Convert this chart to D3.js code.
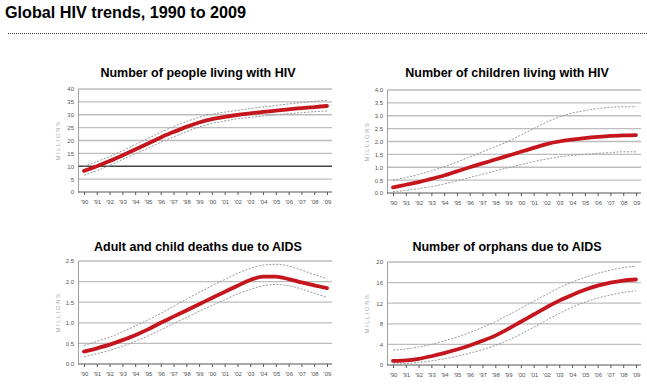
<!DOCTYPE html>
<html><head><meta charset="utf-8">
<script src="https://cdn.jsdelivr.net/npm/d3@7"></script>
<style>
body{margin:0;background:#fff;}
svg{display:block;font-family:"Liberation Sans",Arial,sans-serif;}
</style></head>
<body>
<script>
const years = ["'90","'91","'92","'93","'94","'95","'96","'97","'98","'99","'00","'01","'02","'03","'04","'05","'06","'07","'08","'09"];

const peopleTitle = "Number of people living with HIV";
const peopleTicks = [0,5,10,15,20,25,30,35,40];
const peopleMid   = [8.2,10.0,12.0,14.2,16.5,18.8,21.2,23.3,25.3,27.0,28.3,29.2,29.9,30.5,31.1,31.6,32.1,32.6,33.0,33.4];
const peopleHigh  = [10.0,11.8,13.8,16.0,18.4,20.8,23.2,25.4,27.3,29.0,30.2,31.0,31.7,32.4,33.0,33.6,34.2,34.7,35.2,35.6];
const peopleLow   = [6.5,8.3,10.3,12.6,14.8,17.0,19.3,21.4,23.4,25.2,26.6,27.6,28.4,29.0,29.5,30.0,30.4,30.8,31.2,31.5];

const childTitle = "Number of children living with HIV";
const childTicks = ["0.0","0.5","1.0","1.5","2.0","2.5","3.0","3.5","4.0"];
const childMid   = [0.22,0.32,0.42,0.55,0.68,0.84,1.0,1.15,1.3,1.45,1.6,1.75,1.9,2.0,2.07,2.13,2.18,2.22,2.24,2.25];
const childHigh  = [0.5,0.6,0.72,0.86,1.02,1.2,1.4,1.6,1.8,2.0,2.25,2.5,2.75,2.95,3.1,3.2,3.28,3.33,3.35,3.35];
const childLow   = [0.05,0.1,0.17,0.25,0.35,0.47,0.6,0.73,0.86,0.98,1.1,1.22,1.32,1.4,1.46,1.5,1.54,1.57,1.6,1.6];

const deathTitle = "Adult and child deaths due to AIDS";
const deathTicks = ["0.0","0.5","1.0","1.5","2.0","2.5"];
const deathMid   = [0.3,0.38,0.47,0.58,0.7,0.84,1.0,1.15,1.3,1.45,1.6,1.75,1.9,2.04,2.12,2.12,2.06,1.98,1.91,1.84];
const deathHigh  = [0.45,0.55,0.65,0.78,0.92,1.07,1.23,1.4,1.57,1.74,1.9,2.05,2.2,2.32,2.4,2.42,2.38,2.28,2.17,2.07];
const deathLow   = [0.18,0.25,0.33,0.43,0.55,0.68,0.83,0.98,1.13,1.28,1.42,1.56,1.7,1.81,1.9,1.93,1.9,1.82,1.72,1.62];

const orphTitle = "Number of orphans due to AIDS";
const orphTicks = [0,4,8,12,16,20];
const orphMid   = [0.8,0.9,1.2,1.7,2.3,3.0,3.8,4.7,5.7,7.0,8.4,9.8,11.2,12.5,13.6,14.6,15.4,16.0,16.4,16.6];
const orphHigh  = [2.9,3.1,3.5,4.0,4.7,5.4,6.3,7.3,8.4,9.7,11.0,12.4,13.7,15.0,16.1,17.0,17.8,18.4,18.9,19.2];
const orphLow   = [0.2,0.3,0.5,0.8,1.2,1.7,2.3,3.0,3.8,4.8,6.0,7.3,8.7,10.0,11.2,12.2,13.0,13.6,14.1,14.4];

const W = 647, H = 389;
const svg = d3.select("body").append("svg").attr("width", W).attr("height", H);

svg.append("text").attr("x", 5).attr("y", 18)
  .attr("font-size", 16.2).attr("font-weight", "bold").attr("fill", "#000")
  .text("Global HIV trends, 1990 to 2009");
svg.append("line").attr("x1", 8).attr("x2", 647).attr("y1", 33.5).attr("y2", 33.5)
  .attr("stroke", "#333").attr("stroke-width", 1.2).attr("stroke-dasharray", "1,1");

const panels = [
  {title: peopleTitle, ticks: peopleTicks, mid: peopleMid, hi: peopleHigh, lo: peopleLow, ox: 0, top: 89, bottom: 192, dark: 10, titleY: 77},
  {title: childTitle, ticks: childTicks, mid: childMid, hi: childHigh, lo: childLow, ox: 309, top: 90, bottom: 193, dark: null, titleY: 77},
  {title: deathTitle, ticks: deathTicks, mid: deathMid, hi: deathHigh, lo: deathLow, ox: 0, top: 261, bottom: 364, dark: null, titleY: 251},
  {title: orphTitle, ticks: orphTicks, mid: orphMid, hi: orphHigh, lo: orphLow, ox: 309, top: 262, bottom: 365, dark: null, titleY: 251}
];

panels.forEach(p => {
  const g = svg.append("g").attr("transform", `translate(${p.ox},0)`);
  const axisL = 78, gridR = 332;
  const x = d3.scalePoint().domain(years).range([84, 327]);
  const tv = p.ticks.map(Number);
  const y = d3.scaleLinear().domain([tv[0], tv[tv.length-1]]).range([p.bottom, p.top]);

  g.append("text").attr("x", 198).attr("y", p.titleY).attr("text-anchor", "middle")
    .attr("font-size", 12.5).attr("font-weight", "bold").attr("fill", "#000").text(p.title);

  g.selectAll(".grid").data(tv.slice(1)).enter().append("line")
    .attr("x1", axisL).attr("x2", gridR)
    .attr("y1", d => y(d)).attr("y2", d => y(d))
    .attr("stroke", d => d === p.dark ? "#444" : "#bdbdbd")
    .attr("stroke-width", 1.3);

  const ya = g.append("g").attr("transform", `translate(${axisL},0)`)
    .call(d3.axisLeft(y).tickValues(tv).tickSize(0).tickPadding(4)
      .tickFormat((d, i) => String(p.ticks[i])));
  ya.select(".domain").attr("stroke", "#888").attr("stroke-width", 0.8);
  ya.selectAll("text").attr("font-size", 6).attr("fill", "#555").attr("font-family", "Liberation Sans Narrow, Liberation Sans, sans-serif");

  const xa = g.append("g").attr("transform", `translate(0,${p.bottom})`)
    .call(d3.axisBottom(x).tickSize(3).tickPadding(5));
  xa.select(".domain").attr("d", `M${axisL},0H${gridR}`).attr("stroke", "#555").attr("stroke-width", 1);
  xa.selectAll("line").attr("stroke", "#555");
  xa.selectAll("text").attr("font-size", 6).attr("fill", "#555").attr("font-family", "Liberation Sans Narrow, Liberation Sans, sans-serif");

  g.append("text").attr("transform", `translate(${axisL - 18},${(p.top + p.bottom) / 2}) rotate(-90)`)
    .attr("text-anchor", "middle").attr("font-size", 6).attr("letter-spacing", 1.5)
    .attr("fill", "#aaa").text("MILLIONS");

  const line = d3.line().x((d, i) => x(years[i])).y(d => y(d)).curve(d3.curveMonotoneX);
  [p.hi, p.lo].forEach(arr => {
    g.append("path").attr("d", line(arr)).attr("fill", "none")
      .attr("stroke", "#999").attr("stroke-width", 1).attr("stroke-dasharray", "2,1.5");
  });
  g.append("path").attr("d", line(p.mid)).attr("fill", "none")
    .attr("stroke", "#c4161c").attr("stroke-width", 3.8).attr("stroke-linecap", "round");
});
</script>
</body></html>
